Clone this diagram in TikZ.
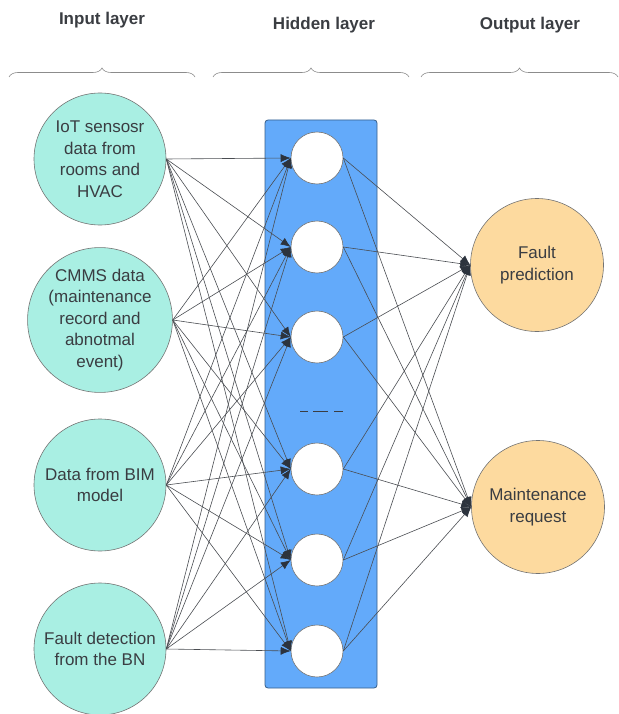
\documentclass[tikz,border=0pt]{standalone}
\usepackage{fontspec}
\setmainfont{Liberation Sans}
\usetikzlibrary{arrows.meta,decorations.pathreplacing}
\definecolor{inF}{HTML}{A9EFE3}
\definecolor{outF}{HTML}{FDDA9F}
\definecolor{hidF}{HTML}{63AAFA}
\definecolor{txt}{HTML}{3A3D42}
\definecolor{edgeC}{HTML}{4A4D52}
\definecolor{tipC}{HTML}{2C333D}
\tikzset{
  inode/.style={circle, draw=black!55, line width=0.6pt, fill=inF, minimum size=132pt, inner sep=0pt, align=center, text=txt, font=\fontsize{17}{21.5}\selectfont},
  onode/.style={circle, draw=black!55, line width=0.6pt, fill=outF, minimum size=133pt, inner sep=0pt, align=center, text=txt, font=\fontsize{17}{21.5}\selectfont},
  hnode/.style={circle, draw=black!55, line width=0.6pt, fill=white, minimum size=52pt, inner sep=0pt},
  hbox/.style={rectangle, rounded corners=3pt, draw=black!45!hidF, line width=0.8pt, fill=hidF, minimum width=112pt, minimum height=568pt, inner sep=0pt},
  edge/.style={draw=edgeC, line width=0.6pt, -{Latex[length=10pt,width=8pt,color=tipC]}},
  head/.style={text=txt, font=\fontsize{17}{20}\selectfont\bfseries},
  brace/.style={draw=black!45, line width=0.6pt, decorate, decoration={brace, amplitude=9pt}}
}
\begin{document}
\begin{tikzpicture}[x=1pt,y=-1pt]
\useasboundingbox (0,0) rectangle (618,714);
% headings
\node[head] (t1) at (102,20) {Input layer};
\node[head] (t2) at (324,25) {Hidden layer};
\node[head] (t3) at (530,25) {Output layer};
% braces
\coordinate (b1a) at (9,77); \coordinate (b1b) at (195,77);
\coordinate (b2a) at (213,77); \coordinate (b2b) at (409,77);
\coordinate (b3a) at (421,77); \coordinate (b3b) at (618,77);
\draw[brace] (b1a) -- (b1b);
\draw[brace] (b2a) -- (b2b);
\draw[brace] (b3a) -- (b3b);
% hidden layer box
\node[hbox] (hb) at (321,404) {};
% input nodes
\node[inode] (in1) at (100,159) {IoT sensosr\\data from\\rooms and\\HVAC};
\node[inode] (in2) at (100,320) {CMMS data\\(maintenance\\record and\\abnotmal\\event)};
\node[inode] (in3) at (100,485) {Data from BIM\\model};
\node[inode] (in4) at (100,649) {Fault detection\\from the BN};
% output nodes
\node[onode] (o1) at (537,265) {Fault\\prediction};
\node[onode] (o2) at (538,507) {Maintenance\\request};
% hidden nodes
\node[hnode] (h1) at (317,158) {};
\node[hnode] (h2) at (317,247) {};
\node[hnode] (h3) at (317,337) {};
\node[hnode] (h4) at (317,469) {};
\node[hnode] (h5) at (317,560) {};
\node[hnode] (h6) at (317,651) {};
% dashes
\coordinate (d1) at (300,411); \coordinate (d2) at (343,411);
\draw[draw=txt, line width=0.8pt, dash pattern=on 8pt off 5pt on 15pt off 6pt on 9pt] (d1) -- (d2);
% edges
\foreach \i in {1,...,4}{
  \foreach \j in {1,...,6}{
    \draw[edge] (in\i.east) -- (h\j.west);
  }
}
\foreach \j in {1,...,6}{
  \foreach \k in {1,2}{
    \draw[edge] (h\j.east) -- (o\k.west);
  }
}
\end{tikzpicture}
\end{document}
